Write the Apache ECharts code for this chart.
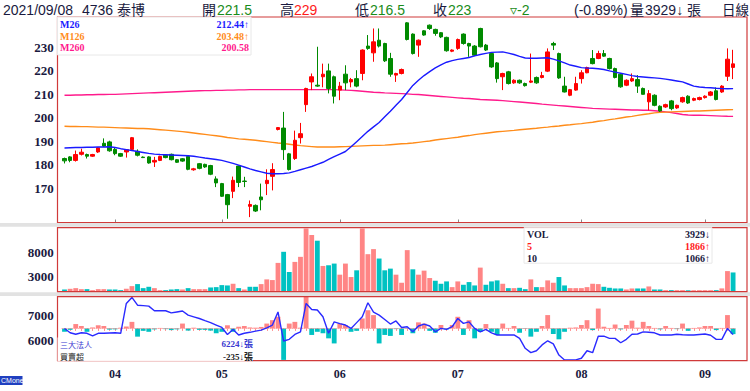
<!DOCTYPE html>
<html><head><meta charset="utf-8">
<script src="https://cdn.jsdelivr.net/npm/echarts@6/dist/echarts.min.js"></script>
<style>html,body{margin:0;padding:0;background:#fff}#c{width:750px;height:391px}</style>
</head><body><div id="c"></div>
<script>
// ---- trading days (2021) ----
const marDays = [19,22,23,24,25,26,29,30,31];
const aprDays = [1,6,7,8,9,12,13,14,15,16,19,20,21,22,23,26,27,28,29];
const mayDays = [3,4,5,6,7,10,11,12,13,14,17,18,19,20,21,24,25,26,27,28,31];
const junDays = [1,2,3,4,7,8,9,10,11,15,16,17,18,21,22,23,24,25,28,29,30];
const julDays = [1,2,5,6,7,8,9,12,13,14,15,16,19,20,21,22,23,26,27,28,29,30];
const augDays = [2,3,4,5,6,9,10,11,12,13,16,17,18,19,20,23,24,25,26,27,30,31];
const sepDays = [1,2,3,6,7,8];
const monthLabels = ['03','04','05','06','07','08','09'];

// ---- prices ----
const opens = [
182.6,183.3,181.8,184.4,184.3,183.6,185.4,189.1,189.7,186.5,
184.7,185.4,186.5,185.7,183.2,183.3,181.1,181.8,184.0,184.4,
182.1,182.5,183.5,177.8,180.4,180.1,179.6,173.9,171.9,167.2,
168.6,179.4,173.0,162.2,162.6,166.2,171.9,175.0,195.0,195.6,
184.6,182.6,191.5,205.6,215.3,213.9,217.5,220.0,217.5,211.8,
218.6,215.3,216.7,218.9,230.6,227.7,233.1,231.7,225.3,218.2,
218.9,240.5,235.7,231.0,237.1,239.5,237.7,236.3,234.3,228.4,
229.6,235.7,231.7,230.6,238.1,231.0,227.4,223.4,217.5,219.6,
214.9,216.0,214.6,215.2,217.2,217.2,219.9,231.7,227.4,213.5,
209.6,211.8,216.7,219.2,225.3,225.3,227.4,225.3,221.0,218.6,
213.9,215.7,216.3,212.5,206.8,209.6,204.9,204.6,207.2,204.2,
206.8,209.2,207.5,207.8,208.6,209.6,211.5,211.0,217.7,221.5];
const closes = [
181.6,181.8,184.3,185.3,183.6,184.3,187.2,187.9,185.9,184.7,
183.6,186.4,191.5,184.0,183.0,180.7,181.8,183.5,183.0,182.1,
181.0,181.5,178.0,178.2,178.4,179.0,175.9,172.2,166.5,162.9,
173.3,172.4,172.8,163.0,160.2,165.0,173.3,177.9,195.8,186.4,
177.9,190.4,193.2,212.5,217.5,213.5,218.6,212.5,209.2,213.5,
214.9,216.3,213.5,228.9,229.6,232.4,230.6,224.3,218.6,218.9,
220.6,233.4,227.4,233.1,235.3,238.1,236.0,234.5,228.6,228.9,
233.4,231.7,230.6,226.7,230.3,228.9,221.7,216.7,218.9,214.6,
216.0,214.9,213.7,215.7,214.9,218.0,228.1,231.0,217.0,211.0,
212.0,214.6,219.2,221.4,223.1,227.4,226.3,221.0,217.2,213.2,
216.0,216.7,213.5,210.0,210.3,205.3,202.9,205.6,203.9,205.3,
208.6,206.3,208.2,208.6,209.2,211.0,207.8,213.5,225.0,223.0];
const lows = [
180.5,181.0,181.3,183.9,182.6,183.3,185.0,187.5,185.5,184.0,
183.3,183.0,186.1,183.5,182.8,180.4,179.0,181.5,182.7,181.8,
180.7,181.2,177.6,177.4,178.0,178.6,175.5,170.4,166.2,156.9,
165.7,170.4,170.4,157.6,159.8,160.5,167.0,169.0,194.6,182.0,
177.5,182.0,189.0,202.5,211.8,213.2,213.0,210.4,206.1,207.5,
211.8,213.0,213.0,216.0,229.0,223.9,230.0,223.8,217.5,215.3,
218.5,233.0,227.0,226.0,235.0,237.5,235.0,234.0,228.2,228.0,
229.0,231.2,226.0,226.3,230.0,228.5,221.3,215.0,211.8,214.2,
214.5,214.5,213.3,214.8,214.5,216.8,219.5,228.9,216.6,210.8,
209.2,211.5,214.6,219.0,222.8,225.0,226.0,220.6,216.8,212.8,
213.5,215.3,210.6,209.9,203.2,204.9,202.5,204.2,203.2,203.8,
206.4,205.9,207.1,207.4,208.2,209.2,207.4,210.6,215.7,216.5];
const highs = [
183.0,183.6,186.0,186.8,184.7,184.6,187.5,191.2,190.2,187.5,
185.0,186.6,191.8,186.5,183.5,183.6,183.3,183.8,184.3,184.7,
182.4,182.8,183.8,178.6,180.7,180.4,179.9,175.0,172.2,167.5,
174.9,179.6,174.8,164.7,163.0,171.9,178.0,180.6,196.0,202.5,
185.0,194.5,197.8,212.8,218.9,230.3,223.1,223.1,218.0,215.3,
222.4,217.0,220.3,229.2,235.3,238.1,238.1,232.0,227.7,219.2,
221.0,240.8,236.0,233.4,237.4,239.8,238.0,236.6,234.6,229.2,
233.8,236.0,232.0,231.0,238.4,231.5,227.8,223.8,219.2,220.0,
216.4,216.3,215.0,227.4,217.6,219.6,229.6,232.4,227.8,217.5,
212.3,217.5,220.3,221.8,228.9,228.6,228.9,225.6,221.4,219.0,
216.4,218.9,218.2,212.9,211.8,210.0,205.3,206.0,207.6,205.6,
209.0,209.6,208.6,209.0,209.6,211.4,212.9,213.9,229.6,229.0];

// ---- moving averages ----
const ma26 = [
187.1,187.2,187.3,187.3,187.4,187.4,187.5,187.5,187.6,187.3,
186.8,186.4,186.0,185.6,185.2,184.8,184.5,184.3,184.2,184.1,
184.0,183.9,183.8,183.6,183.2,182.8,182.5,182.2,181.8,181.2,
180.5,179.8,179.0,178.2,177.5,176.9,176.3,176.1,176.1,176.2,
176.5,177.1,177.8,178.5,179.2,180.1,181.0,182.2,183.4,184.5,
185.6,187.6,189.8,192.0,194.2,196.1,198.0,200.4,202.8,205.3,
207.8,210.8,213.8,216.0,218.0,219.7,221.3,222.6,223.7,224.4,
224.9,225.3,225.7,226.4,227.0,227.5,227.9,228.0,228.1,227.6,
227.0,226.2,225.5,225.4,225.4,225.5,225.6,225.0,224.3,223.4,
222.5,222.0,221.4,221.2,221.1,220.9,220.6,220.0,219.5,219.0,
218.5,218.0,217.6,217.4,217.2,217.0,216.8,216.5,216.1,215.7,
215.3,214.4,213.5,213.1,212.9,212.8,212.6,212.45,212.40,212.44];
const ma126 = [
196.4,196.3,196.3,196.2,196.2,196.1,196.0,196.0,195.9,195.8,
195.7,195.6,195.5,195.4,195.4,195.3,195.1,194.9,194.7,194.5,
194.3,194.1,193.8,193.5,193.2,192.9,192.6,192.3,192.0,191.6,
191.3,191.0,190.8,190.6,190.4,190.1,189.8,189.5,189.2,189.0,
188.7,188.4,188.1,187.9,187.7,187.5,187.5,187.5,187.5,187.6,
187.7,187.8,187.9,188.0,188.1,188.2,188.2,188.3,188.5,188.7,
188.9,189.0,189.2,189.5,189.8,190.1,190.5,190.8,191.1,191.4,
191.7,192.1,192.4,192.8,193.1,193.4,193.7,194.0,194.2,194.4,
194.6,194.9,195.1,195.3,195.5,195.8,196.0,196.3,196.5,196.8,
197.0,197.3,197.5,197.8,198.1,198.5,198.8,199.2,199.5,199.9,
200.3,200.6,201.0,201.4,201.7,202.1,202.3,202.4,202.5,202.6,
202.7,202.8,202.9,202.9,203.0,203.1,203.2,203.3,203.4,203.48];
const ma260 = [
209.6,209.6,209.7,209.7,209.8,209.8,209.9,209.9,210.0,210.0,
210.1,210.2,210.3,210.4,210.5,210.6,210.7,210.8,210.9,211.0,
211.1,211.2,211.3,211.4,211.5,211.6,211.6,211.7,211.7,211.8,
211.8,211.9,211.9,212.0,212.0,212.0,212.0,212.0,212.0,212.0,
212.0,212.0,212.0,212.0,212.0,212.0,212.0,212.0,212.0,211.9,
211.8,211.7,211.5,211.3,211.1,210.9,210.8,210.6,210.5,210.4,
210.3,210.2,210.0,209.9,209.7,209.5,209.3,209.1,208.9,208.7,
208.5,208.3,208.2,208.0,207.8,207.7,207.6,207.5,207.3,207.1,
206.9,206.7,206.5,206.3,206.1,205.8,205.6,205.4,205.2,205.0,
204.8,204.6,204.4,204.2,204.0,203.9,203.8,203.7,203.6,203.5,
203.4,203.3,203.3,203.2,203.2,203.0,202.8,202.5,202.2,201.8,
201.4,201.2,201.1,201.1,201.0,200.9,200.8,200.7,200.62,200.58];

// ---- volume (張) ----
const volumes = [
416,555,694,486,486,278,486,486,416,416,
278,555,1110,1527,694,972,694,278,278,416,
486,416,694,486,486,486,833,902,1319,1250,
1596,694,416,972,972,1527,2500,2360,5900,8190,
4025,6107,7150,13000,11660,10480,5270,5413,5760,3470,
5760,2984,4372,13000,7700,8745,6800,4372,4719,3470,
1804,8536,4580,3470,4303,2776,2220,1596,2082,902,
2082,1388,1943,1250,4927,1388,2082,2290,1596,694,
694,763,486,2500,902,902,2290,1804,2984,1250,
694,694,694,902,1596,1527,972,763,625,625,
416,625,625,625,1041,416,416,278,278,278,
280,250,260,270,269,270,280,642,4210,3929];

// ---- 三大法人 holdings (line) and net buy/sell (bars) ----
const instHold = [
6480,6300,6240,6300,6280,6170,6280,6280,6290,6300,
6280,7510,7760,7440,7420,7400,7210,7210,7210,7120,
7160,7200,7030,6960,6890,6800,6720,6620,6520,6230,
6440,6210,6280,6320,6370,6410,6500,6620,7160,5960,
6030,6230,6340,7510,7260,7240,6960,6280,6750,6680,
6620,6480,6720,6960,7540,7150,7030,6850,6660,6790,
6520,6550,6340,6580,6660,6580,6340,6480,6440,6550,
6890,6690,6750,6480,6340,6440,6300,6210,6210,6210,
6210,6070,5660,5480,5560,5800,5970,5840,5380,5180,
5180,5180,5250,5560,5480,6160,6160,6070,6070,5890,
6030,6240,6250,6340,6320,6300,6210,6210,6210,6240,
6220,6210,6210,6230,6250,6200,6030,6030,6480,6224];
const instNet = [
-140,-60,180,100,-140,40,130,100,-50,-40,
30,80,270,-340,-100,-140,-40,20,-30,-70,
-40,200,-90,30,-60,-60,-90,-200,-140,130,
-140,70,100,40,30,60,200,340,480,-1300,
200,270,30,1300,-270,-140,-200,-410,-620,200,
140,-140,-100,410,750,550,-620,-270,-310,-30,
-270,-20,-200,250,200,-100,-180,140,-40,140,
480,-270,340,-410,-140,180,-140,-270,200,20,
100,-180,-20,-340,-140,100,550,-230,-450,-140,
30,40,140,340,-70,820,70,20,160,-40,
140,320,30,270,100,20,-40,100,20,-30,
200,-100,20,40,100,100,-70,20,550,-235];

const priceTicks = [170,180,190,200,210,220,230];
const volTicks = [3000,8000];
const instTicks = [6000,7000];
const maNames = ['M26','M126','M260'];

// ---- build ----
const dates = [], monthStart = new Set();
[marDays,aprDays,mayDays,junDays,julDays,augDays,sepDays].forEach((days,m)=>{
  days.forEach((d,k)=>{
    if(k===0 && m>0) monthStart.add(dates.length);
    dates.push(monthLabels[m]+'/'+String(d).padStart(2,'0'));
  });
});
const N = dates.length, L = N-1;
const candle = opens.map((o,i)=>[o,closes[i],lows[i],highs[i]]);
const UP='#ff0000', DN='#008a00', VUP='#ff8585', VDN='#00c2c2';
const volData = volumes.map((v,i)=>{
  const up = i===0 ? closes[i]>=opens[i] : closes[i]>=closes[i-1];
  return {value:v, itemStyle:{color: up?VUP:VDN}};
});
const netData = instNet.map(v=>({value:v,itemStyle:{color: v>=0?VUP:VDN}}));
const avg = (a,s,e)=>{let t=0;for(let i=s;i<=e;i++)t+=a[i];return t/(e-s+1);};
const vma5 = avg(volumes,L-4,L), vma5p = avg(volumes,L-5,L-1);
const vma10 = avg(volumes,L-9,L), vma10p = avg(volumes,L-10,L-1);
const arrow=(a,b)=>a>b?'↑':(a<b?'↓':'');
const chg = closes[L]-closes[L-1];
const pct = (chg/closes[L-1]*100).toFixed(2);

const NAVY='#1a1a40', GRN='#1a8c1a', RED='#ff1a1a';
const HF={size:14,family:'Liberation Sans, Noto Sans CJK TC, sans-serif',weight:'normal'};
const SF={size:10,family:'Liberation Serif, serif',weight:'bold'};
const CF={size:8,family:'Noto Sans CJK TC, sans-serif',weight:'normal'};
const CN={size:9,family:'Liberation Serif, Noto Sans CJK TC, serif',weight:'bold'};
function T(text,x,y,fill,f,align,z){f=f||HF;return {type:'text',z:z||70,silent:true,style:{text:text,x:x,y:y,fill:fill,fontSize:f.size,fontFamily:f.family,fontWeight:f.weight,textAlign:align||'left',textVerticalAlign:'middle'}};}
function R(x,y,w,h,fill,stroke,z,lw){return {type:'rect',z:z||50,silent:true,shape:{x:x,y:y,width:w,height:h},style:{fill:fill||'none',stroke:stroke||'none',lineWidth:lw||1}};}

const maArr=[ma26,ma126,ma260], maCol=['#1a1aff','#ff8c1a','#ff1a8c'];
const graphics = [
  R(0,223,750,3.8,'#e2e2e2',null,40),
  R(0,292.3,750,3.8,'#e2e2e2',null,40),
  R(57.5,17,689.5,205.5,null,'#d03a3a',50,1.2),
  R(57.5,227.7,689.5,64,null,'#d03a3a',50,1.2),
  R(57.5,296.7,689.5,64,null,'#d03a3a',50,1.2),
  // header
  T('2021/09/08',3,10,NAVY),
  T('4736 泰博',82,10,NAVY),
  T('開',202,10,NAVY), T(String(opens[L]),217,10,GRN),
  T('高',280,10,NAVY), T(String(highs[L]),294,10,RED),
  T('低',355,10,NAVY), T(String(lows[L]),370,10,GRN),
  T('收',433,10,NAVY), T(String(closes[L]),448,10,GRN),
  T('▿'+chg.toFixed(0),510,10,GRN),
  T('('+pct+'%)',574,10,NAVY),
  T('量',630,10,NAVY), T(volumes[L]+arrow(volumes[L],volumes[L-1]),645,10,NAVY), T('張',687,10,NAVY),
  T('日線',722,10,NAVY,{size:13.5,family:HF.family,weight:'normal'}),
  // MA legend box
  R(57.5,17,193.5,38,'rgba(255,255,255,0.95)','#e8e8e8',60),
  // VOL box
  R(524,227.7,188,35.5,'rgba(255,255,255,0.95)','#e8e8e8',60),
  T('VOL',527,234.5,NAVY,SF), T(volumes[L]+arrow(volumes[L],volumes[L-1]),710,234.5,NAVY,SF,'right'),
  T('5',527,246.3,RED,SF), T(Math.round(vma5)+arrow(vma5,vma5p),710,246.3,RED,SF,'right'),
  T('10',527,258,NAVY,SF), T(Math.round(vma10)+arrow(vma10,vma10p),710,258,NAVY,SF,'right'),
  // chip box
  R(57.5,337.5,195.5,23.5,'rgba(255,255,255,0.95)',null,60),
  T('三大法人',60,344,'#3a3ad0',CF),
  T(instHold[L]+arrow(instHold[L],instHold[L-1])+'張',253,344,'#3a3ad0',CN,'right'),
  T('買賣超',60,356.5,'#222',CF),
  T(instNet[L]+arrow(instNet[L],instNet[L-1])+'張',253,356.5,'#222',CN,'right'),
  // CMoney mark
  R(0,376,22.5,9,'#2040c0',null,60),
  T('CMoney',1,380.7,'#ffffff',{size:7,family:'Liberation Sans, sans-serif',weight:'normal'})
];
maNames.forEach((n,k)=>{
  const y=[24,36,47.5][k];
  const a=maArr[k], v=a[L];
  graphics.push(T(n,60,y,maCol[k],SF));
  graphics.push(T(v.toFixed(2)+(v>a[L-1]?'↑':''),249,y,maCol[k],SF,'right'));
});

const gl=61.7, gw=674.2;
const axLab = {fontFamily:'Liberation Serif, serif',fontWeight:'bold',fontSize:13,color:NAVY,margin:8,formatter:(v)=>String(v)};
const hidden = {axisLine:{show:false},axisTick:{show:false},splitLine:{show:false}};
const option = {
  animation:false,
  backgroundColor:'#ffffff',
  grid:[
    {left:gl,width:gw,top:17,height:205.5},
    {left:gl,width:gw,top:228,height:63.5},
    {left:gl,width:gw,top:296.7,height:64}
  ],
  xAxis:[
    {type:'category',gridIndex:0,data:dates,boundaryGap:true,axisLine:{show:false},
     axisTick:{show:true,inside:true,length:3,alignWithLabel:true,interval:(i)=>monthStart.has(i),lineStyle:{color:'#888'}},
     axisLabel:{show:false},splitLine:{show:false}},
    {type:'category',gridIndex:1,data:dates,boundaryGap:true,axisLine:{show:true,lineStyle:{color:'#555'}},
     axisTick:{show:false},axisLabel:{show:false},splitLine:{show:false}},
    {type:'category',gridIndex:2,data:dates,boundaryGap:true,axisLine:{show:false},
     axisTick:{show:true,interval:0,length:2.5,alignWithLabel:true,lineStyle:{color:'#ff8f8f'}},
     axisLabel:{show:true,interval:(i)=>monthStart.has(i),formatter:(v)=>v.slice(0,2),
       fontFamily:'Liberation Serif, serif',fontWeight:'bold',fontSize:12,color:NAVY,margin:7},
     splitLine:{show:false}}
  ],
  yAxis:[
    Object.assign({type:'value',gridIndex:0,min:155.3,max:243,axisLabel:Object.assign({customValues:priceTicks},axLab)},hidden),
    Object.assign({type:'value',gridIndex:1,min:0,max:13100,axisLabel:Object.assign({customValues:volTicks},axLab)},hidden),
    Object.assign({type:'value',gridIndex:2,min:5148,max:7790,axisLabel:Object.assign({customValues:instTicks},axLab)},hidden),
    Object.assign({type:'value',gridIndex:2,min:-1333,max:1309,show:false},hidden)
  ],
  series:[
    {type:'candlestick',xAxisIndex:0,yAxisIndex:0,data:candle,barWidth:4,
     itemStyle:{color:UP,color0:DN,borderColor:UP,borderColor0:DN,borderWidth:1},z:3},
    {type:'line',xAxisIndex:0,yAxisIndex:0,data:ma260,showSymbol:false,lineStyle:{color:maCol[2],width:1.4},z:2},
    {type:'line',xAxisIndex:0,yAxisIndex:0,data:ma126,showSymbol:false,lineStyle:{color:maCol[1],width:1.4},z:2},
    {type:'line',xAxisIndex:0,yAxisIndex:0,data:ma26,showSymbol:false,lineStyle:{color:maCol[0],width:1.4},z:4},
    {type:'bar',xAxisIndex:1,yAxisIndex:1,data:volData,barWidth:'86%'},
    {type:'bar',xAxisIndex:2,yAxisIndex:3,data:netData,barWidth:'86%',
     markLine:{silent:true,symbol:'none',label:{show:false},data:[{yAxis:0}],lineStyle:{type:'dotted',color:'#ff8f8f',width:1}}},
    {type:'line',xAxisIndex:2,yAxisIndex:2,data:instHold,showSymbol:false,lineStyle:{color:'#2a2aff',width:1.4},z:5}
  ],
  graphic:graphics
};
const chart = echarts.init(document.getElementById('c'),null,{renderer:'svg'});
chart.setOption(option);
</script></body></html>
